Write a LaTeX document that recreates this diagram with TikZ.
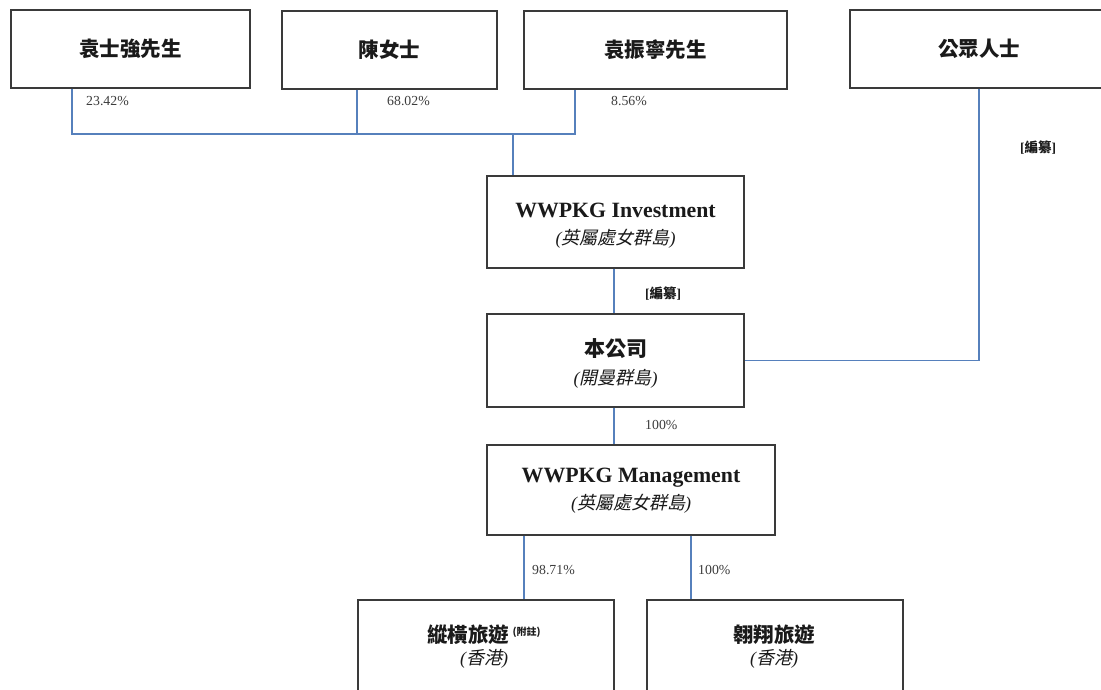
\documentclass[tikz,border=0pt]{standalone}
\usepackage{fontspec}
\setmainfont{Liberation Serif}
\newfontfamily\cjk{Noto Sans CJK TC}
\newfontfamily\cjkit[FakeSlant=0.22]{Noto Sans CJK TC}
\definecolor{lineblue}{HTML}{5680BC}
\definecolor{boxgray}{HTML}{3A3A3A}
\definecolor{txt}{HTML}{1A1A1A}
\tikzset{
  box/.style={draw=boxgray, line width=1.3pt, fill=white, inner sep=0pt},
  conn/.style={draw=lineblue, line width=1.4pt},
  cjkt/.style={inner sep=0pt, text=txt, text height=18pt, text depth=2.5pt,
    font=\fontsize{20.5}{20.5}\selectfont\cjk\bfseries},
  latt/.style={inner sep=0pt, text=txt, text height=14.4pt, text depth=0pt,
    font=\fontsize{21.8}{21.8}\selectfont\bfseries},
  subt/.style={inner sep=0pt, text=txt, text height=15.8pt, text depth=2.2pt,
    font=\fontsize{18}{18}\selectfont},
  pct/.style={font=\fontsize{13.8}{13.8}\selectfont, text=txt!85, inner sep=0pt, anchor=west},
  redact/.style={font=\fontsize{13.5}{13.5}\selectfont\bfseries, text=txt, inner sep=0pt, anchor=west},
}
\newcommand{\subx}[1]{{\itshape(}{\cjkit #1}{\itshape)}}
\newcommand{\redx}{{[}{\cjk\bfseries 編纂}{]}}
\begin{document}
\begin{tikzpicture}[x=1pt,y=-1pt]
\useasboundingbox (0,0) rectangle (1101,689);
\clip (0,0) rectangle (1101,689);
% top boxes
\node[box, minimum width=239, minimum height=78] (b1) at (130.5,49) {};
\node[cjkt] (b1t) at (b1.center) {袁士強先生};
\node[box, minimum width=215, minimum height=78] (b2) at (389.5,50) {};
\node[cjkt] (b2t) at (b2.center) {陳女士};
\node[box, minimum width=263, minimum height=78] (b3) at (655.5,50) {};
\node[cjkt] (b3t) at (b3.center) {袁振寧先生};
\node[box, minimum width=258, minimum height=78] (b4) at (979,49) {};
\node[cjkt] (b4t) at (b4.center) {公眾人士};
% middle boxes
\node[box, minimum width=257, minimum height=92] (inv) at (615.5,222) {};
\node[latt] (invt) at (615.5,210) {WWPKG Investment};
\node[subt] (invs) at (615.5,238) {\subx{英屬處女群島}};
\node[box, minimum width=257, minimum height=93] (co) at (615.5,360.5) {};
\node[cjkt, font=\fontsize{21}{21}\selectfont\cjk\bfseries] (cot) at (615.5,348.5) {本公司};
\node[subt] (cos) at (615.5,377.5) {\subx{開曼群島}};
\node[box, minimum width=288, minimum height=90] (mgmt) at (631,490) {};
\node[latt] (mgmtt) at (631,475) {WWPKG Management};
\node[subt] (mgmts) at (631,502.5) {\subx{英屬處女群島}};
% bottom boxes
\node[box, minimum width=256, minimum height=95] (s1) at (486,647.5) {};
\node[cjkt] (s1t) at (484,635) {縱橫旅遊\,\raisebox{7pt}{\fontsize{10}{10}\selectfont\bfseries(\cjk 附註)}};
\node[subt] (s1s) at (484,657.5) {\subx{香港}};
\node[box, minimum width=256, minimum height=95] (s2) at (775,647.5) {};
\node[cjkt] (s2t) at (774,635) {翱翔旅遊};
\node[subt] (s2s) at (774,658) {\subx{香港}};
% connector coordinates
\coordinate (bus1) at (72,134);
\coordinate (bus2) at (357,134);
\coordinate (bus3) at (575,134);
\coordinate (busj) at (513,134);
\coordinate (vx) at (614,300);
\coordinate (t1) at (524,600);
\coordinate (t2) at (691,600);
% connectors
\draw[conn] (b1.south -| bus1) -- (bus1) -- (bus3) -- (b3.south -| bus3);
\draw[conn] (b2.south -| bus2) -- (bus2);
\draw[conn] (busj) -- (inv.north -| busj);
\draw[conn] (inv.south -| vx) -- (co.north -| vx);
\draw[conn] (b4.south) |- (co.east);
\draw[conn] (co.south -| vx) -- (mgmt.north -| vx);
\draw[conn] (mgmt.south -| t1) -- (s1.north -| t1);
\draw[conn] (mgmt.south -| t2) -- (s2.north -| t2);
% labels
\node[pct] (p1) at (86,101) {23.42\%};
\node[pct] (p2) at (387,101) {68.02\%};
\node[pct] (p3) at (611,101) {8.56\%};
\node[redact] (r1) at (1020,148) {\redx};
\node[redact] (r2) at (645,294) {\redx};
\node[pct] (p4) at (645,425) {100\%};
\node[pct] (p5) at (532,570) {98.71\%};
\node[pct] (p6) at (698,570) {100\%};
\end{tikzpicture}
\end{document}
